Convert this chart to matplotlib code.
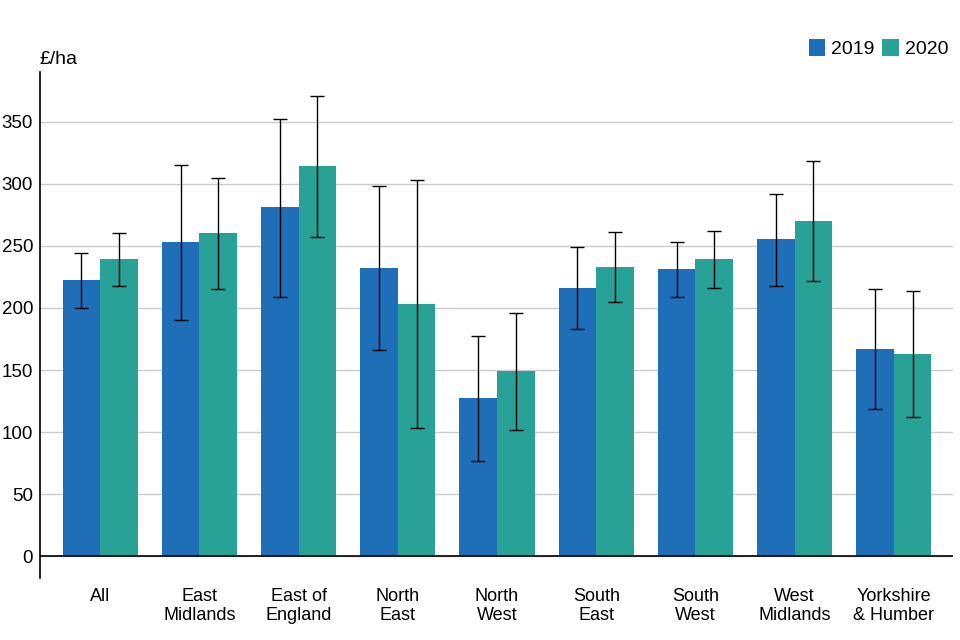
import numpy as np
import matplotlib
matplotlib.use("Agg")
import matplotlib.pyplot as plt

plt.rcParams['font.family'] = ['Liberation Sans', 'DejaVu Sans']

# data
regions = ["All", "East\nMidlands", "East of\nEngland", "North\nEast", "North\nWest",
           "South\nEast", "South\nWest", "West\nMidlands", "Yorkshire\n& Humber"]
vals_2019 = [222.5, 253, 281, 232, 127.5, 216, 231, 255.5, 167]
low_2019 = [200, 190, 209, 166, 77, 183, 209, 218, 119]
high_2019 = [244, 315, 352, 298, 177, 249, 253, 292, 215]
vals_2020 = [239.5, 260, 314, 203, 149, 233, 239.5, 270, 163]
low_2020 = [218, 215, 257, 103, 102, 205, 216, 222, 112]
high_2020 = [260, 305, 371, 303, 196, 261, 262, 318, 214]
yticks = [0, 50, 100, 150, 200, 250, 300, 350]

c2019 = '#1f6eb8'
c2020 = '#28a197'

fig = plt.figure(figsize=(9.6, 6.4), dpi=100)
ax = fig.add_axes([40/960, 62/640, 913/960, 506/640])

x = np.arange(len(regions))
w = 0.378

def errs(v, lo, hi):
    v = np.asarray(v); lo = np.asarray(lo); hi = np.asarray(hi)
    return [v - lo, hi - v]

ax.bar(x - w/2, vals_2019, w, color=c2019, label='2019', zorder=2)
ax.bar(x + w/2, vals_2020, w, color=c2020, label='2020', zorder=2)
ax.errorbar(x - w/2, vals_2019, yerr=errs(vals_2019, low_2019, high_2019), fmt='none',
            ecolor='black', elinewidth=1, capsize=5, capthick=1, zorder=3)
ax.errorbar(x + w/2, vals_2020, yerr=errs(vals_2020, low_2020, high_2020), fmt='none',
            ecolor='black', elinewidth=1, capsize=5, capthick=1, zorder=3)

ax.set_xlim(-0.605, 8.595)
ax.set_ylim(-17.5, 390)
ax.set_yticks(yticks)
ax.set_xticks(x)
ax.set_xticklabels(regions, linespacing=1.2)
ax.tick_params(axis='both', length=0, labelsize=13)
ax.tick_params(axis='y', labelsize=13.5)
ax.tick_params(axis='x', pad=7)
ax.tick_params(axis='y', pad=5)

ax.grid(axis='y', color='#cccccc', linewidth=1, zorder=0)
ax.axhline(0, color='black', linewidth=1.2, zorder=4)
for s in ['top', 'right', 'bottom']:
    ax.spines[s].set_visible(False)
ax.spines['left'].set_linewidth(1.2)

fig.text(40/960, 1 - 60/640, '£/ha', fontsize=14, va='center', ha='left')

fig.legend(loc='upper right', bbox_to_anchor=(956/960, 1 - 31/640), ncol=2, frameon=False,
           fontsize=14, handlelength=0.85, handleheight=0.95, handletextpad=0.3,
           columnspacing=0.4, borderaxespad=0)

fig.savefig('out.png', dpi=100)
